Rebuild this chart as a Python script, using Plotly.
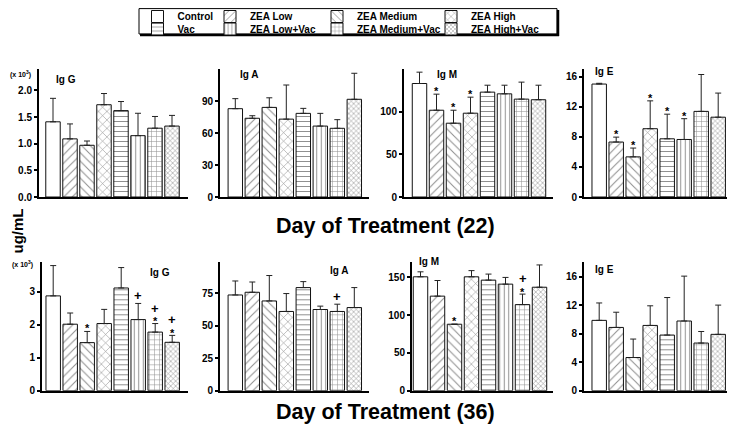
import plotly.graph_objects as go

# ---------------- data ----------------
groups = ["Control", "ZEA Low", "ZEA Medium", "ZEA High",
          "Vac", "ZEA Low+Vac", "ZEA Medium+Vac", "ZEA High+Vac"]
panel_names = ["Ig G", "Ig A", "Ig M", "Ig E"]
day_titles = ["Day of Treatment (22)", "Day of Treatment (36)"]

d22_igg = [1.41, 1.09, 0.97, 1.73, 1.62, 1.15, 1.29, 1.33]
d22_igg_err = [0.44, 0.28, 0.08, 0.21, 0.17, 0.42, 0.22, 0.20]
d22_iga = [82.8, 73.8, 84.0, 73.0, 78.4, 66.5, 64.4, 91.6]
d22_iga_err = [9.4, 2.4, 9.0, 32.0, 4.7, 11.9, 8.1, 24.4]
d22_igm = [133.0, 101.7, 86.5, 98.2, 122.9, 120.9, 114.7, 114.0]
d22_igm_err = [13.3, 18.8, 15.2, 18.8, 8.1, 10.1, 19.9, 17.0]
d22_ige = [15.0, 7.3, 5.33, 9.07, 7.73, 7.64, 11.37, 10.6]
d22_ige_err = [0.1, 0.65, 1.17, 3.7, 3.27, 2.76, 4.9, 3.2]

d36_igg = [2.88, 2.02, 1.46, 2.04, 3.12, 2.16, 1.78, 1.47]
d36_igg_err = [0.92, 0.34, 0.34, 0.43, 0.62, 0.49, 0.26, 0.21]
d36_iga = [73.8, 75.9, 69.2, 61.1, 79.5, 62.6, 61.1, 64.1]
d36_iga_err = [10.8, 7.9, 19.6, 13.8, 4.6, 2.6, 5.6, 15.4]
d36_igm = [150.8, 125.2, 88.0, 150.8, 146.4, 141.1, 114.0, 137.0]
d36_igm_err = [6.6, 20.7, 0.0, 8.2, 8.0, 8.9, 13.9, 29.5]
d36_ige = [9.86, 8.87, 4.65, 9.15, 7.8, 9.77, 6.68, 7.9]
d36_ige_err = [2.44, 2.13, 2.59, 2.75, 5.26, 6.29, 1.62, 4.1]

# significance marks (top to bottom)
d22_igg_sig = [""] * 8
d22_iga_sig = [""] * 8
d22_igm_sig = ["", "*", "*", "*", "", "", "", ""]
d22_ige_sig = ["", "*", "*", "*", "*", "*", "", ""]
d36_igg_sig = ["", "", "*", "", "", "+", "+*", "+*"]
d36_iga_sig = ["", "", "", "", "", "", "+", ""]
d36_igm_sig = ["", "", "*", "", "", "", "+*", ""]
d36_ige_sig = [""] * 8

y_max = [2.4, 120, 150, 17, 3.9, 99, 170, 18]
y_ticks = [[0, 0.5, 1.0, 1.5, 2.0], [0, 30, 60, 90], [0, 50, 100], [0, 4, 8, 12, 16],
           [0, 1, 2, 3], [0, 25, 50, 75], [0, 50, 100, 150], [0, 4, 8, 12, 16]]

panels = [
    (d22_igg, d22_igg_err, d22_igg_sig), (d22_iga, d22_iga_err, d22_iga_sig),
    (d22_igm, d22_igm_err, d22_igm_sig), (d22_ige, d22_ige_err, d22_ige_sig),
    (d36_igg, d36_igg_err, d36_igg_sig), (d36_iga, d36_iga_err, d36_iga_sig),
    (d36_igm, d36_igm_err, d36_igm_sig), (d36_ige, d36_ige_err, d36_ige_sig),
]

# ---------------- styles / layout ----------------
PAGE_OFF = 8            # page body margin
W, H = 735 - 2 * PAGE_OFF, 435 - 2 * PAGE_OFF
FONT = "Liberation Sans, Arial, sans-serif"
patterns = [
    dict(shape=""),
    dict(shape="/", size=6, solidity=0.18),
    dict(shape="\\", size=6, solidity=0.18),
    dict(shape="x", size=6, solidity=0.18),
    dict(shape="-", size=5, solidity=0.2),
    dict(shape="|", size=4.5, solidity=0.22),
    dict(shape="+", size=5, solidity=0.2),
    dict(shape="x", size=3.5, solidity=0.3),
]

# positions in page pixels
dom_x_px = [[39, 188], [220, 369], [404, 553], [584, 727],
            [42, 188], [220, 369], [412, 553], [584, 727]]
first_center_px = [53, 235.3, 419.5, 599.2, 53.2, 235.3, 420.5, 599.2]
dom_y_px = [[69, 197], [262.3, 390.7]]
pitch = 17.0

label_pos = [(54, 79.7), (237.7, 74.3), (435, 74.3), (592.7, 71.7),
             (148, 272.7), (328, 270), (416.7, 261), (592.7, 269)]
exp_pos = [(8, 74.3), (10, 264.3)]
legend_text_x = [177.5, 250, 357, 471]
legend_row_y = [14.5, 27.0]


def px(x):
    return (x - PAGE_OFF) / W


def py(y):
    return 1 - (y - PAGE_OFF) / H


fig = go.Figure()
annotations = []
legend_names = ["legend" if i == 0 else "legend%d" % (i + 1) for i in range(8)]

for k, (vals, errs, sigs) in enumerate(panels):
    sfx = "" if k == 0 else str(k + 1)
    row = k // 4
    for i, g in enumerate(groups):
        fig.add_trace(go.Bar(
            x=[i], y=[vals[i]], name=g, legendgroup=g, showlegend=(k == 0),
            legend=legend_names[i],
            width=0.85,
            marker=dict(color="white", line=dict(color="#111", width=1),
                        pattern=dict(fgcolor="#222", bgcolor="white", **patterns[i])),
            error_y=dict(type="data", symmetric=False, array=[errs[i]], arrayminus=[0],
                         color="#222", thickness=1, width=3),
            xaxis="x" + sfx, yaxis="y" + sfx, hoverinfo="skip",
        ))
        s = sigs[i]
        if s:
            top = vals[i] + errs[i]
            stacked = len(s) > 1
            for ch in reversed(s):
                if ch == "*":
                    off = 5.5 if stacked else 6
                    annotations.append(dict(x=i, y=top, xref="x" + sfx, yref="y" + sfx,
                                            text="*", showarrow=False, yanchor="middle",
                                            yshift=off - 3,
                                            font=dict(family=FONT, size=11, color="black", weight="bold")))
                else:
                    off = 15.5 if stacked else 8
                    annotations.append(dict(x=i, y=top, xref="x" + sfx, yref="y" + sfx,
                                            text="+", showarrow=False, yanchor="middle",
                                            yshift=off,
                                            font=dict(family=FONT, size=13, color="black", weight="bold")))

    dl, dr = dom_x_px[k]
    fc = first_center_px[k]
    yt, yb = dom_y_px[row]
    fig.layout["xaxis" + sfx] = dict(
        domain=[px(dl), min(1.0, px(dr))], range=[(dl - fc) / pitch, (dr - fc) / pitch],
        anchor="y" + sfx, showticklabels=False, ticks="", showgrid=False, zeroline=False,
        showline=True, linecolor="black", linewidth=2, fixedrange=True)
    fig.layout["yaxis" + sfx] = dict(
        domain=[py(yb), py(yt)], range=[0, y_max[k]], anchor="x" + sfx,
        tickvals=y_ticks[k], tickformat=".1f" if k == 0 else "",
        ticks="outside", ticklen=3, tickwidth=1.5, tickcolor="black",
        showgrid=False, zeroline=False, showline=True, linecolor="black", linewidth=2,
        tickfont=dict(family=FONT, size=10, color="black", weight="bold"), fixedrange=True)
    lx, ly = label_pos[k]
    annotations.append(dict(x=px(lx), y=py(ly), xref="paper", yref="paper",
                            text=panel_names[k % 4], showarrow=False,
                            xanchor="left", yanchor="middle",
                            font=dict(family=FONT, size=10, color="black", weight="bold")))

for r in range(2):
    ex, ey = exp_pos[r]
    annotations.append(dict(x=px(ex), y=py(ey), xref="paper", yref="paper",
                            text="(x 10<sup>3</sup>)", showarrow=False,
                            xanchor="left", yanchor="middle",
                            font=dict(family=FONT, size=7, color="black", weight="bold")))

for r, ty in enumerate([226, 412]):
    annotations.append(dict(x=px(386), y=py(ty), xref="paper", yref="paper",
                            text=day_titles[r], showarrow=False, xanchor="center", yanchor="middle",
                            font=dict(family=FONT, size=21.5, color="black", weight="bold")))
annotations.append(dict(x=px(17.5), y=py(231), xref="paper", yref="paper",
                        text="ug/mL", showarrow=False, textangle=-90,
                        xanchor="center", yanchor="middle",
                        font=dict(family=FONT, size=15, color="black", weight="bold")))

# legend frame with drop shadow
shapes = [
    dict(type="rect", xref="paper", yref="paper", x0=px(139), x1=px(557), y0=py(8.6), y1=py(34),
         line=dict(color="black", width=1), fillcolor="rgba(0,0,0,0)", layer="below"),
    dict(type="line", xref="paper", yref="paper", x0=px(140), x1=px(559), y0=py(35), y1=py(35),
         line=dict(color="black", width=2.5)),
    dict(type="line", xref="paper", yref="paper", x0=px(558), x1=px(558), y0=py(10), y1=py(36),
         line=dict(color="black", width=2.5)),
]

layout_legends = {}
for i in range(8):
    col, r = i % 4, i // 4
    layout_legends[legend_names[i]] = dict(
        orientation="v", xanchor="left", yanchor="top",
        x=px(legend_text_x[col] - 40), y=py(legend_row_y[r] - 12.5),
        borderwidth=0, bgcolor="rgba(0,0,0,0)",
        font=dict(family=FONT, size=10, color="black", weight="bold"),
        itemclick=False, itemdoubleclick=False)

fig.update_layout(
    width=W, height=H, margin=dict(l=0, r=0, t=0, b=0, autoexpand=False),
    paper_bgcolor="white", plot_bgcolor="white", barmode="overlay",
    annotations=annotations, shapes=shapes, showlegend=True,
    **layout_legends,
)

fig.write_html("out.html")
